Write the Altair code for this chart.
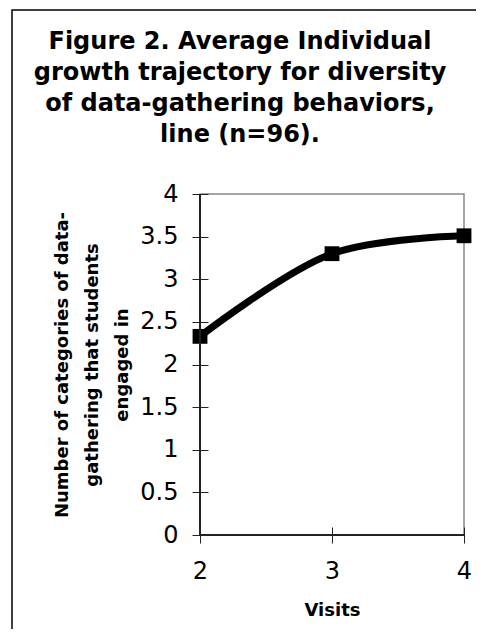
import altair as alt
import pandas as pd

visits = [2, 3, 4]
values = [2.33, 3.30, 3.51]
y_ticks = [0, 0.5, 1, 1.5, 2, 2.5, 3, 3.5, 4]
x_ticks = [2, 3, 4]
title_lines = ["Figure 2.  Average Individual", "growth trajectory for diversity",
               "of data-gathering behaviors,", "line (n=96)."]
y_title = ["Number of categories of data-", "gathering that students", "engaged in"]
x_title = "Visits"

df = pd.DataFrame({"Visits": visits, "Value": values})
FONT = "DejaVu Sans"

xs = alt.Scale(domain=[2, 4], nice=False)
ys = alt.Scale(domain=[0, 4], nice=False)

x_axis = alt.Axis(values=x_ticks, title=x_title, offset=-8, tickSize=16, domain=False,
                  grid=False, labelPadding=16, labelFontSize=24, labelFont=FONT,
                  labelColor="black", tickColor="#222", titleFontSize=18,
                  titleFont=FONT, titleFontWeight="bold", titleColor="black",
                  titlePadding=18, format="~g", labelFlush=False, labelOverlap=False)
y_axis = alt.Axis(values=y_ticks, title=y_title, offset=-8, tickSize=16, domain=False,
                  grid=False, labelPadding=14, labelFontSize=24, labelFont=FONT,
                  labelColor="black", tickColor="#222", titleFontSize=18,
                  titleFont=FONT, titleFontWeight="bold", titleColor="black",
                  titlePadding=8, titleLineHeight=30, labelFlush=False, format="~g",
                  labelOverlap=False)

base = alt.Chart(df)

line = base.mark_line(color="black", strokeWidth=7, interpolate="catmull-rom").encode(
    x=alt.X("Visits:Q", scale=xs, axis=x_axis),
    y=alt.Y("Value:Q", scale=ys, axis=y_axis),
)
pts = base.mark_point(shape="square", filled=True, color="black", size=220, opacity=1).encode(
    x=alt.X("Visits:Q", scale=xs, axis=x_axis),
    y=alt.Y("Value:Q", scale=ys, axis=y_axis),
)
left_dom = alt.Chart(pd.DataFrame({"Visits": [2]})).mark_rule(color="#222", strokeWidth=2).encode(
    x=alt.X("Visits:Q", scale=xs, axis=x_axis))
bot_dom = alt.Chart(pd.DataFrame({"Value": [0]})).mark_rule(color="#222", strokeWidth=2).encode(
    y=alt.Y("Value:Q", scale=ys, axis=y_axis))
frame = alt.Chart(pd.DataFrame({"v": [0]})).mark_rect(fill=None, stroke="black", strokeWidth=1.5).encode(
    x=alt.value(-188), x2=alt.value(280), y=alt.value(-184), y2=alt.value(700))

chart = alt.layer(line, pts, left_dom, bot_dom, frame).properties(
    width=264, height=341,
    padding={"left": 192, "top": 186, "right": 12, "bottom": 94},
    autosize=alt.AutoSizeParams(type="none"),
    title=alt.TitleParams(title_lines, fontSize=24, font=FONT, fontWeight="bold",
                          color="black", anchor="middle", dx=-92, lineHeight=31,
                          frame="group", baseline="top", offset=0, dy=138),
).configure_view(stroke="#888", strokeWidth=1.5)

chart.save("out.html", embed_options={"renderer": "svg", "actions": False})
